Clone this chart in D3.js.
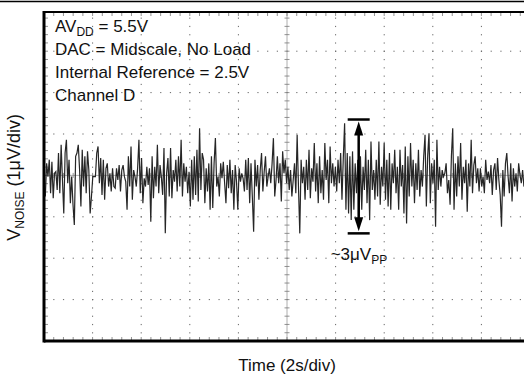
<!DOCTYPE html>
<html lang="en">
<head>
<meta charset="utf-8">
<title>DAC noise</title>
<script src="https://cdn.jsdelivr.net/npm/d3@7"></script>
<style>
  body { margin: 0; background: #fff; }
  svg text { font-family: "Liberation Sans", Arial, sans-serif; fill: #111; }
</style>
</head>
<body>
<script>
// noise trace in uV (equal time steps, ~19.75 s shown)
var noiseA = [-0.27,-0.51,0.29,-0.03,0.38,-0.43,0.33,-0.55,0.05,0.09,-0.35,0.54,-0.43,0.74,-0.11,-0.92,0.54,0.86,-0.19,0.38,-0.67,-0.03,-0.71,-1.20,0.46,0.54,0.74,0.13,-0.75,0.62,-0.27,0.46,-0.43,0.58,0.13,-0.92,-0.51,-0.03,-0.03,-0.03,0.54,0.70,-0.19,0.42,-0.47,0.38,-0.59,0.17,0.29,-0.27,0.05,-0.39,0.17,-0.27,-0.31,0.17,-0.11,0.25,-0.39,0.13,0.25];
var noiseB = [-0.03,-0.15,-0.83,0.46,-0.27,0.70,-0.59,0.13,-0.03,-0.27,0.17,0.86,-0.43,0.42,-0.67,-0.07,-0.27,0.21,-0.23,0.17,-1.12,0.46,-0.55,0.21,-0.27,0.74,-0.43,0.25,-0.03,-0.47,0.66,-1.40,0.05,0.42,-0.51,0.66,-0.55,0.13,-0.15,0.38,-0.39,0.46,-0.27,0.86,-0.51,0.29,-0.15,0.21,-0.43,0.09,-0.75,0.38,-0.59,0.46,-0.47,0.62,-0.63,1.14,-0.35,0.54];
var noiseC = [0.38,-0.67,0.17,-0.39,0.29,-0.83,0.46,-0.79,0.29,0.90,-0.27,-0.03,-0.51,0.29,-0.07,0.33,-0.19,-0.67,0.25,-0.31,0.38,-0.43,0.13,-0.83,0.25,-0.15,-0.83,0.17,-0.15,0.05,-0.07,-0.39,0.38,-0.35,0.42,-0.67,0.29,-0.51,-1.36,0.38,-0.27,0.25,-0.59,0.13,0.54,-0.39,0.09,0.46,-0.27,-0.03,0.17,-0.19,0.29,0.90,-0.51,-0.11,0.46,-0.19,0.29,-0.63,0.58];
var noiseD = [0.05,0.38,-0.19,0.21,-0.35,0.13,-0.51,-0.11,0.29,-0.43,0.98,-0.27,-1.40,0.38,-0.19,0.21,-0.59,0.38,-0.35,0.62,-0.55,0.17,-0.15,0.78,-0.39,0.29,-0.67,0.46,-0.43,0.13,-0.59,0.78,-0.11,0.38,-0.67,0.70,-0.19,0.29,-0.27,0.21,-0.39,0.38,-0.19,0.54,-0.59,0.42,1.26,-0.83,0.54,-0.92,0.46,-1.08,0.58,-0.83,0.29,-0.43,0.38,-1.00,0.46,-0.83,0.21];
var noiseE = [-0.35,0.62,-0.67,0.38,-1.08,0.82,-0.35,0.13,-0.59,0.38,-0.51,0.82,-0.71,0.21,-0.27,0.78,-0.59,0.38,-0.75,0.54,-0.83,0.29,-0.19,0.62,-0.43,0.21,-0.83,0.62,-0.27,0.25,-0.92,0.70,-1.16,0.46,-0.51,0.78,-0.27,0.38,-0.67,0.29,-0.35,0.62,-0.51,0.13,-0.27,0.46,0.98,-0.75,0.46,1.02,-0.67,0.29,-0.19,0.38,-1.24,0.86,-0.35,0.21,-0.27,0.13,-0.03];
var noiseF = [0.05,0.29,-0.43,-0.11,-0.71,0.46,1.14,-0.83,0.29,-0.51,0.46,-0.27,0.78,-0.59,0.21,-0.19,0.38,-0.88,0.29,-0.27,0.86,-0.43,0.25,0.46,-0.19,0.17,-0.39,0.17,-0.27,-0.03,-0.43,0.38,-0.11,0.09,-0.19,0.25,-0.47,0.13,0.29,-0.35,0.42,-0.11,-0.47,-1.24,0.13,-0.51,0.29,0.54,-0.03,-0.43,0.29,-0.63,0.17,-0.27,0.05,-0.39,0.29,0.01,-0.19,0.13,-0.27];

var shownSeconds = 19.75;
var conditions = ["DAC = Midscale, No Load", "Internal Reference = 2.5V", "Channel D"];
var ppLabel = 3;      // ~3 uVpp
var ppTop = 1.35, ppBottom = -1.40;  // arrow ends, uV
var ppTime = 12.95;

var width = 524, height = 379;
var left = 44, topY = 12, bottom = 341, divW = 48.6, divH = 41.4;
var fs = 17, fsSub = 12;

var x = d3.scaleLinear().domain([0, 20]).range([left, left + 10 * divW]);
var y = d3.scaleLinear().domain([-4, 4]).range([bottom, bottom - 8 * divH]);

var svg = d3.select("body").append("svg")
    .attr("width", width)
    .attr("height", height);

svg.append("defs").append("clipPath").attr("id", "plot")
  .append("rect")
    .attr("x", left).attr("y", topY)
    .attr("width", width - left).attr("height", bottom - topY);

// rule across the very top
svg.append("line")
    .attr("x1", 0).attr("x2", width)
    .attr("y1", 1.5).attr("y2", 1.5)
    .attr("stroke", "#000").attr("stroke-width", 1.6);

var grid = svg.append("g").attr("clip-path", "url(#plot)");
var minorX = d3.range(0, 20.001, 0.4);
var minorY = d3.range(-4, 4.001, 0.2);

// dotted major grid lines
[2, 4, 6, 8, 12, 14, 16, 18].forEach(function(t) {
    grid.selectAll(null).data(minorY).enter().append("rect")
        .attr("x", x(t) - 0.5).attr("y", function(d) { return y(d) - 0.5; })
        .attr("width", 1).attr("height", 1.2)
        .attr("fill", "#666");
});
[-3, -2, -1, 1, 2, 3].forEach(function(v) {
    grid.selectAll(null).data(minorX).enter().append("rect")
        .attr("x", function(d) { return x(d) - 0.5; }).attr("y", y(v) - 0.5)
        .attr("width", 1.2).attr("height", 1)
        .attr("fill", "#666");
});

// centre cross with minor ticks
grid.append("line")
    .attr("x1", x(10)).attr("x2", x(10)).attr("y1", topY).attr("y2", bottom)
    .attr("stroke", "#999").attr("stroke-width", 0.8);
grid.selectAll(null).data(minorY).enter().append("line")
    .attr("x1", x(10) - 2.5).attr("x2", x(10) + 2.5)
    .attr("y1", function(d) { return y(d); }).attr("y2", function(d) { return y(d); })
    .attr("stroke", "#777").attr("stroke-width", 0.8);
grid.append("line")
    .attr("x1", left).attr("x2", width).attr("y1", y(0)).attr("y2", y(0))
    .attr("stroke", "#999").attr("stroke-width", 0.8);
grid.selectAll(null).data(minorX).enter().append("line")
    .attr("x1", function(d) { return x(d); }).attr("x2", function(d) { return x(d); })
    .attr("y1", y(0) - 2.5).attr("y2", y(0) + 2.5)
    .attr("stroke", "#777").attr("stroke-width", 0.8);

// edge ticks
grid.selectAll(null).data(minorY).enter().append("line")
    .attr("x1", left).attr("x2", left + 4)
    .attr("y1", function(d) { return y(d); }).attr("y2", function(d) { return y(d); })
    .attr("stroke", "#777").attr("stroke-width", 0.8);
grid.selectAll(null).data(minorX).enter().append("line")
    .attr("x1", function(d) { return x(d); }).attr("x2", function(d) { return x(d); })
    .attr("y1", topY).attr("y2", topY + 4)
    .attr("stroke", "#777").attr("stroke-width", 0.8);
grid.selectAll(null).data(minorX).enter().append("line")
    .attr("x1", function(d) { return x(d); }).attr("x2", function(d) { return x(d); })
    .attr("y1", bottom - 4).attr("y2", bottom)
    .attr("stroke", "#777").attr("stroke-width", 0.8);

// the trace
var noise = noiseA.concat(noiseB, noiseC, noiseD, noiseE, noiseF);
var step = shownSeconds / (noise.length - 1);
var line = d3.line()
    .x(function(d, i) { return x(i * step); })
    .y(function(d) { return y(d); });

svg.append("path")
    .datum(noise)
    .attr("clip-path", "url(#plot)")
    .attr("d", line)
    .attr("fill", "none")
    .attr("stroke", "#262626")
    .attr("stroke-width", 1.2);

// frame
svg.append("line")
    .attr("x1", left).attr("x2", width).attr("y1", topY).attr("y2", topY)
    .attr("stroke", "#000").attr("stroke-width", 2);
svg.append("line")
    .attr("x1", left).attr("x2", width).attr("y1", bottom).attr("y2", bottom)
    .attr("stroke", "#000").attr("stroke-width", 3);
svg.append("line")
    .attr("x1", left).attr("x2", left).attr("y1", topY - 1).attr("y2", bottom + 1.5)
    .attr("stroke", "#000").attr("stroke-width", 3);

// peak to peak marker
var ax = x(ppTime);
var yTop = y(ppTop), yBot = y(ppBottom);
svg.append("line")
    .attr("x1", ax - 11).attr("x2", ax + 11).attr("y1", yTop).attr("y2", yTop)
    .attr("stroke", "#000").attr("stroke-width", 2.5);
svg.append("line")
    .attr("x1", ax - 11).attr("x2", ax + 11).attr("y1", yBot).attr("y2", yBot)
    .attr("stroke", "#000").attr("stroke-width", 2.5);
svg.append("line")
    .attr("x1", ax).attr("x2", ax).attr("y1", yTop + 12).attr("y2", yBot - 12)
    .attr("stroke", "#000").attr("stroke-width", 2.5);
svg.append("path")
    .attr("d", "M" + ax + "," + (yTop + 2) + "L" + (ax - 4.5) + "," + (yTop + 16) + "L" + (ax + 4.5) + "," + (yTop + 16) + "Z")
    .attr("fill", "#000");
svg.append("path")
    .attr("d", "M" + ax + "," + (yBot - 2) + "L" + (ax - 4.5) + "," + (yBot - 16) + "L" + (ax + 4.5) + "," + (yBot - 16) + "Z")
    .attr("fill", "#000");

var pp = svg.append("text")
    .attr("x", ax - 28).attr("y", 260)
    .attr("font-size", fs);
pp.append("tspan").text("~" + ppLabel + "\u03bcV");
pp.append("tspan").attr("font-size", fsSub).attr("dy", 4).text("PP");

// condition notes
var note = svg.append("g").attr("font-size", fs);
var av = note.append("text").attr("x", 55).attr("y", 32);
av.append("tspan").text("AV");
av.append("tspan").attr("font-size", fsSub).attr("dy", 4).text("DD");
av.append("tspan").attr("dy", -4).text(" = 5.5V");
note.selectAll(null).data(conditions).enter().append("text")
    .attr("x", 55)
    .attr("y", function(d, i) { return 55 + i * 22.8; })
    .text(function(d) { return d; });

// axis titles
var yt = svg.append("text")
    .attr("transform", "translate(20," + (y(0) + 2) + ") rotate(-90)")
    .attr("text-anchor", "middle")
    .attr("font-size", 18);
yt.append("tspan").text("V");
yt.append("tspan").attr("font-size", fsSub).attr("dy", 4).text("NOISE");
yt.append("tspan").attr("dy", -4).text(" (1\u03bcV/div)");

svg.append("text")
    .attr("x", x(10)).attr("y", 371)
    .attr("text-anchor", "middle")
    .attr("font-size", fs)
    .text("Time (2s/div)");
</script>
</body>
</html>
